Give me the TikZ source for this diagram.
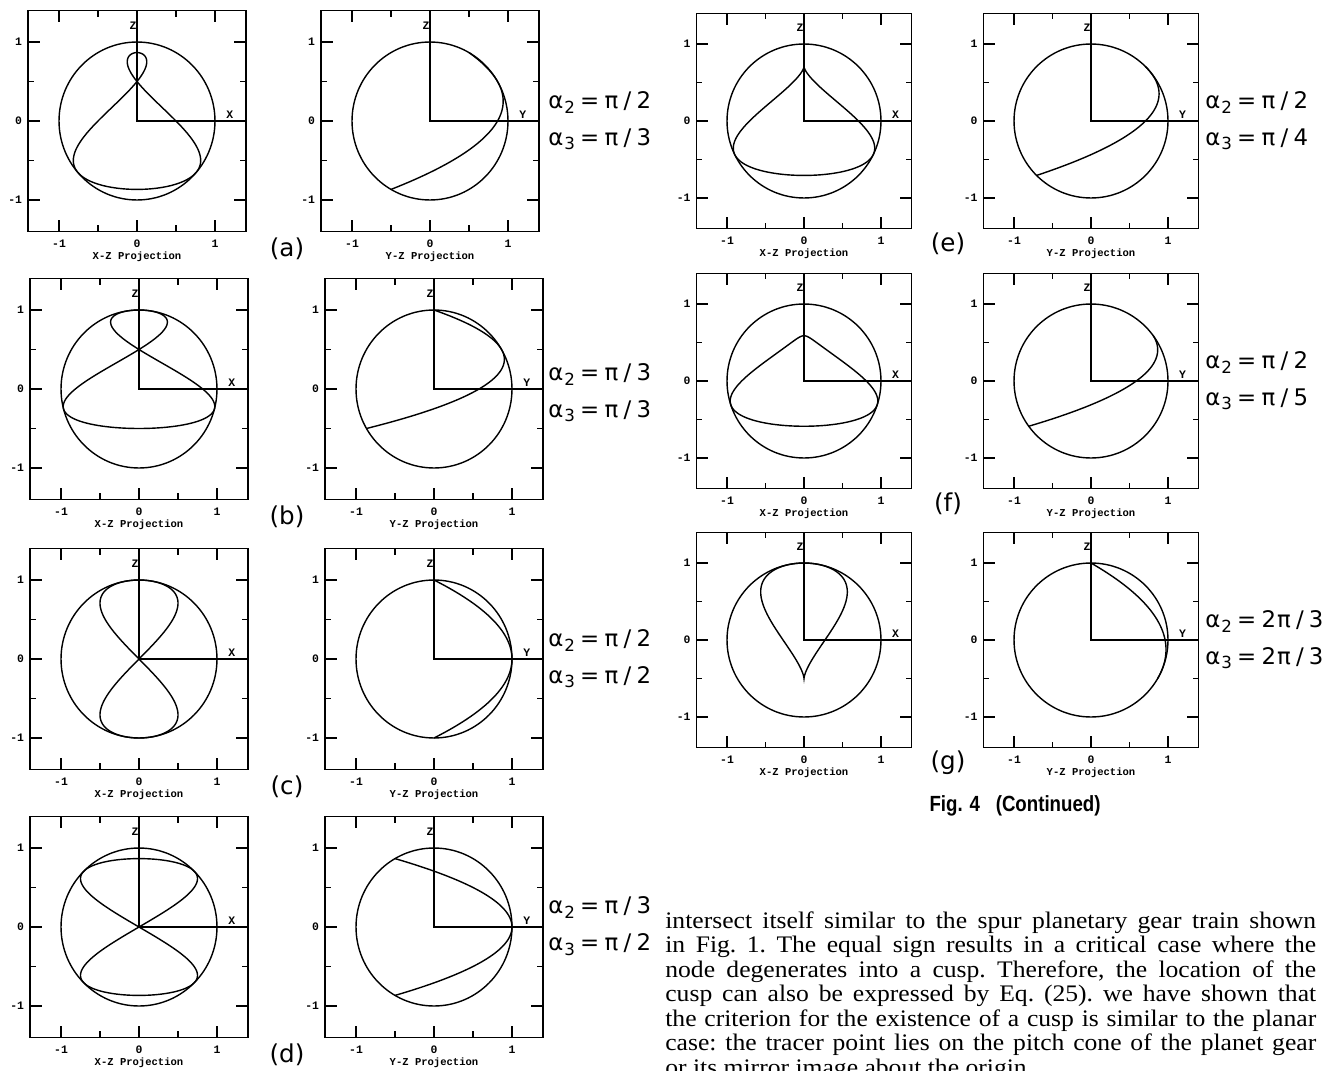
\documentclass[tikz,border=0pt]{standalone}
\usepackage{fontspec}
\usepackage{tikz}
\newfontfamily\plotfont{Liberation Mono}
\newfontfamily\labelfont{DejaVu Sans}
\newfontfamily\capfont[FakeStretch=0.85]{Liberation Sans}
\newfontfamily\bodyfont[FakeStretch=1.08]{Liberation Serif}

\tikzset{
  frame/.style={line width=0.8pt},
  curve/.style={line width=0.8pt},
  ticklbl/.style={font=\plotfont\bfseries\fontsize{6.5}{7}\selectfont, inner sep=0pt},
  axislbl/.style={font=\plotfont\bfseries\fontsize{6.5}{7}\selectfont, inner sep=0pt},
  projlbl/.style={font=\plotfont\bfseries\fontsize{6}{7}\selectfont, inner sep=0pt},
  caselbl/.style={font=\labelfont\fontsize{14}{16}\selectfont, inner sep=0pt},
  anglelbl/.style={font=\labelfont\fontsize{13}{21}\selectfont, align=left, anchor=west, inner sep=0pt},
  bodyline/.style={font=\bodyfont\fontsize{13.5}{16}\selectfont\frenchspacing, anchor=base west, inner sep=0pt},
}

% tracer point: carrier about Z, planet about its axis, both by \t
\newcommand\trX{((\trm)*sin(\t)*cos(\t)-((\tra)*cos(\t)+(\trsa)*(\trk)*(1-cos(\t)))*sin(\t))}
\newcommand\trY{((\trm)*sin(\t)*sin(\t)+((\tra)*cos(\t)+(\trsa)*(\trk)*(1-cos(\t)))*cos(\t))}
\newcommand\trZ{((\trb)*cos(\t)+(\trca)*(\trk)*(1-cos(\t)))}

\newcommand\alphaeq[2]{α\kern0.5pt\raisebox{-0.35ex}{\fontsize{9.5}{9.5}\selectfont #1}\kern3pt=\kern3pt#2}
\newcommand\frc[2]{#1\kern3pt/\kern3pt#2}

% #1 name, #2 #3 origin (px), #4 #5 units (cm), #6 X or Y, #7 alpha2, #8 alpha3
\newcommand\projpanel[8]{%
  \pgfmathsetmacro\trsa{sin(#7)}%
  \pgfmathsetmacro\trca{cos(#7)}%
  \pgfmathsetmacro\tra{sin(#7-#8)}%
  \pgfmathsetmacro\trb{cos(#7-#8)}%
  \pgfmathsetmacro\trk{cos(#8)}%
  \pgfmathsetmacro\trm{sin(#8)}%
  \expandafter\let\expandafter\trH\csname tr#6\endcsname
  \begin{scope}[shift={(#2,#3)}, x=#4cm, y=#5cm]
    \draw[frame] (-1.4,-1.4) rectangle (1.4,1.4);
    \foreach \u in {-1,0,1} {
      \draw[frame] (\u,-1.4) -- ++(0,0.15) (\u,1.4) -- ++(0,-0.15)
        (-1.4,\u) -- ++(0.15,0) (1.4,\u) -- ++(-0.15,0);
      \node[ticklbl, anchor=east] (#1-l\u) at (-1.47,\u) {\u};
      \node[ticklbl] (#1-b\u) at (\u,-1.55) {\u};
    }
    \foreach \u in {-0.5,0.5} {
      \draw[frame] (\u,-1.4) -- ++(0,0.08) (\u,1.4) -- ++(0,-0.08)
        (-1.4,\u) -- ++(0.08,0) (1.4,\u) -- ++(-0.08,0);
    }
    \draw[frame] (0,1.4) -- (0,0) -- (1.4,0);
    \draw[curve] (0,0) circle[radius=1];
    \node[axislbl] (#1-v) at (-0.05,1.21) {Z};
    \node[axislbl] (#1-h) at (1.19,0.08) {#6};
    \node[projlbl] (#1-cap) at (0,-1.72) {#6-Z Projection};
    \draw[curve] plot[domain=0:360, samples=361, variable=\t] ({\trH},{\trZ});
  \end{scope}}

\begin{document}
\begin{tikzpicture}[x=0.02cm, y=-0.02cm]
  \useasboundingbox (0,0) rectangle (1325,1071);
  \clip (0,0) rectangle (1325,1071);

  % left column
  \projpanel{axz}{137}{121}{1.56}{1.58}{X}{90}{60}
  \projpanel{ayz}{430}{121}{1.56}{1.58}{Y}{90}{60}
  \projpanel{bxz}{139}{389}{1.56}{1.58}{X}{60}{60}
  \projpanel{byz}{434}{389}{1.56}{1.58}{Y}{60}{60}
  \projpanel{cxz}{139}{659}{1.56}{1.58}{X}{90}{90}
  \projpanel{cyz}{434}{659}{1.56}{1.58}{Y}{90}{90}
  \projpanel{dxz}{139}{927}{1.56}{1.58}{X}{60}{90}
  \projpanel{dyz}{434}{927}{1.56}{1.58}{Y}{60}{90}

  % right column
  \projpanel{exz}{804}{121}{1.54}{1.54}{X}{90}{45}
  \projpanel{eyz}{1091}{121}{1.54}{1.54}{Y}{90}{45}
  \projpanel{fxz}{804}{381}{1.54}{1.54}{X}{90}{36}
  \projpanel{fyz}{1091}{381}{1.54}{1.54}{Y}{90}{36}
  \projpanel{gxz}{804}{640}{1.54}{1.54}{X}{120}{120}
  \projpanel{gyz}{1091}{640}{1.54}{1.54}{Y}{120}{120}

  \node[caselbl] (tag-a) at (287,249) {(a)};
  \node[caselbl] (tag-b) at (287,517) {(b)};
  \node[caselbl] (tag-c) at (287,787) {(c)};
  \node[caselbl] (tag-d) at (287,1055) {(d)};
  \node[caselbl] (tag-e) at (948,244) {(e)};
  \node[caselbl] (tag-f) at (948,504) {(f)};
  \node[caselbl] (tag-g) at (948,763) {(g)};

  \node[anglelbl] (ang-a) at (548,121) {\alphaeq{2}{\frc{π}{2}}\\\alphaeq{3}{\frc{π}{3}}};
  \node[anglelbl] (ang-b) at (548,393) {\alphaeq{2}{\frc{π}{3}}\\\alphaeq{3}{\frc{π}{3}}};
  \node[anglelbl] (ang-c) at (548,659) {\alphaeq{2}{\frc{π}{2}}\\\alphaeq{3}{\frc{π}{2}}};
  \node[anglelbl] (ang-d) at (548,926) {\alphaeq{2}{\frc{π}{3}}\\\alphaeq{3}{\frc{π}{2}}};
  \node[anglelbl] (ang-e) at (1205,121) {\alphaeq{2}{\frc{π}{2}}\\\alphaeq{3}{\frc{π}{4}}};
  \node[anglelbl] (ang-f) at (1205,381) {\alphaeq{2}{\frc{π}{2}}\\\alphaeq{3}{\frc{π}{5}}};
  \node[anglelbl] (ang-g) at (1205,640) {\alphaeq{2}{\frc{2\kern0.5pt π}{3}}\\\alphaeq{3}{\frc{2\kern0.5pt π}{3}}};

  \node[font=\capfont\bfseries\fontsize{12.5}{14}\selectfont, inner sep=0pt]
    (figcap) at (1015,806) {Fig. 4\hspace{9pt}(Continued)};

  % running text
  \node[bodyline] (line1) at (665,928) {\makebox[13.02cm][s]{intersect itself similar to the spur planetary gear train shown}};
  \node[bodyline] (line2) at (665,952.5) {\makebox[13.02cm][s]{in Fig. 1. The equal sign results in a critical case where the}};
  \node[bodyline] (line3) at (665,977) {\makebox[13.02cm][s]{node degenerates into a cusp. Therefore, the location of the}};
  \node[bodyline] (line4) at (665,1001.5) {\makebox[13.02cm][s]{cusp can also be expressed by Eq. (25). we have shown that}};
  \node[bodyline] (line5) at (665,1026) {\makebox[13.02cm][s]{the criterion for the existence of a cusp is similar to the planar}};
  \node[bodyline] (line6) at (665,1050.5) {\makebox[13.02cm][s]{case: the tracer point lies on the pitch cone of the planet gear}};
  \node[bodyline] (line7) at (665,1075) {or its mirror image about the origin.};
\end{tikzpicture}
\end{document}
